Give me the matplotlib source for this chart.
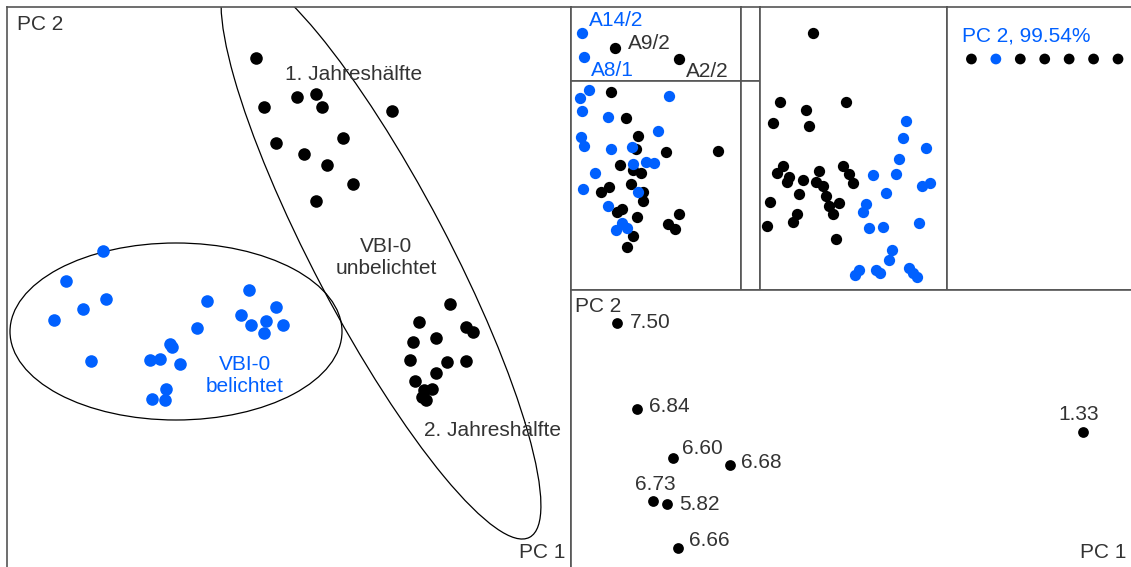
import matplotlib.pyplot as plt
from matplotlib.patches import Ellipse

plt.rcParams["font.family"] = ["Liberation Sans", "DejaVu Sans"]

BLUE = "#0060ff"
INK = "#333333"
FRAME = "#555555"
FS = 15

# --- left panel: PCA scores, VBI-0 samples
unexp_x = [2.49, 2.57, 2.90, 3.09, 3.15, 3.85, 2.69, 3.36, 2.97, 3.20, 3.46, 3.09,
           4.43, 4.12, 4.59, 4.66, 4.06, 4.29, 4.03, 4.40, 4.59, 4.29, 4.08, 4.25,
           4.17, 4.15, 4.19]
unexp_y = [5.09, 4.60, 4.70, 4.73, 4.60, 4.56, 4.24, 4.29, 4.13, 4.02, 3.83, 3.66,
           2.63, 2.45, 2.40, 2.35, 2.25, 2.29, 2.07, 2.05, 2.06, 1.94, 1.86, 1.78,
           1.77, 1.70, 1.67]
exp_x = [0.96, 0.59, 2.42, 0.99, 0.76, 0.47, 2.00, 2.69, 2.34, 2.44, 2.59, 2.76,
         2.57, 1.90, 1.63, 1.65, 0.84, 1.43, 1.53, 1.73, 1.59, 1.45, 1.58]
exp_y = [3.16, 2.86, 2.77, 2.68, 2.58, 2.47, 2.66, 2.60, 2.52, 2.42, 2.46, 2.42,
         2.34, 2.39, 2.23, 2.20, 2.06, 2.07, 2.08, 2.03, 1.78, 1.68, 1.67]

# confidence ellipses (centre x, centre y, width, height, angle)
ell_exp = (1.69, 2.355, 3.32, 1.77, 0.0)
ell_unexp = (3.74, 3.12, 6.38, 1.34, -62.25)

# --- top row: outliers with sample names
out_names = ["A14/2", "A9/2", "A8/1", "A2/2"]
out_x = [0.107, 0.44, 0.13, 1.08]
out_y = [0.483, 0.333, 0.243, 0.217]
out_blue = [True, False, True, False]
out_offsets = [(7, 12), (13, 4), (7, -14), (7, -12)]

# --- scores without outliers
b_blue_x = [0.18, 0.09, 0.11, 0.37, 0.98, 0.10, 0.13, 0.40, 0.61, 0.87, 0.62, 0.75,
            0.83, 0.24, 0.12, 0.67, 0.37, 0.51, 0.45, 0.56]
b_blue_y = [2.00, 1.92, 1.79, 1.73, 1.94, 1.53, 1.44, 1.41, 1.43, 1.59, 1.26, 1.28,
            1.27, 1.17, 1.01, 0.98, 0.84, 0.67, 0.60, 0.62]
b_black_x = [0.40, 0.55, 0.67, 0.65, 0.95, 1.47, 0.49, 0.62, 0.70, 0.38, 0.30, 0.60,
             0.72, 0.72, 1.08, 0.97, 1.04, 0.51, 0.46, 0.66, 0.62, 0.56]
b_black_y = [1.98, 1.72, 1.54, 1.41, 1.38, 1.39, 1.25, 1.20, 1.17, 1.03, 0.98, 1.06,
             0.98, 0.89, 0.76, 0.66, 0.61, 0.81, 0.78, 0.73, 0.54, 0.43]

c_black_x = [0.53, 0.20, 0.46, 0.86, 0.13, 0.49, 0.23, 0.17, 0.29, 0.27, 0.43, 0.59,
             0.56, 0.63, 0.83, 0.89, 0.93, 0.39, 0.66, 0.69, 0.79, 0.73, 0.10, 0.07,
             0.37, 0.33, 0.76]
c_black_y = [2.57, 1.88, 1.80, 1.88, 1.67, 1.64, 1.24, 1.17, 1.13, 1.08, 1.10, 1.19,
             1.08, 1.04, 1.24, 1.16, 1.07, 0.96, 0.94, 0.84, 0.87, 0.76, 0.88, 0.64,
             0.76, 0.68, 0.51]
c_blue_x = [1.46, 1.43, 1.66, 1.39, 1.13, 1.36, 1.62, 1.70, 1.26, 1.06, 1.03, 1.09,
            1.23, 1.59, 1.32, 1.29, 0.99, 0.95, 1.16, 1.20, 1.49, 1.57, 1.53]
c_blue_y = [1.69, 1.52, 1.42, 1.31, 1.15, 1.16, 1.04, 1.07, 0.97, 0.86, 0.78, 0.62,
            0.63, 0.67, 0.40, 0.30, 0.20, 0.15, 0.20, 0.17, 0.22, 0.13, 0.17]

# --- one-dimensional PC 2 scores
d_index = [1, 2, 3, 4, 5, 6, 7]
d_score = [2.31, 2.31, 2.31, 2.31, 2.31, 2.31, 2.31]
d_colors = ["black", BLUE, "black", "black", "black", "black", "black"]

# --- bottom right: group scores with labels
e_labels = ["7.50", "6.84", "1.33", "6.60", "6.68", "6.73", "5.82", "6.66"]
e_x = [0.46, 0.66, 5.12, 1.02, 1.59, 0.82, 0.96, 1.07]
e_y = [2.44, 1.58, 1.35, 1.09, 1.02, 0.66, 0.63, 0.19]
e_offsets = [(13, 0), (12, 2), (-4, 17), (9, 9), (11, 3), (2, 17), (12, 0), (11, 7)]
e_align = ["left", "left", "center", "left", "left", "center", "left", "left"]

W, H = 1131, 567
fig = plt.figure(figsize=(W / 100, H / 100), dpi=100)


def panel(x0, y0, x1, y1, hide=()):
    # rectangle given in pixels from the top-left corner
    ax = fig.add_axes([x0 / W, (H - y1) / H, (x1 - x0) / W, (y1 - y0) / H])
    ax.set_xlim(0, (x1 - x0) / 100)
    ax.set_ylim(0, (y1 - y0) / 100)
    ax.set_xticks([])
    ax.set_yticks([])
    for name, sp in ax.spines.items():
        sp.set_color(FRAME)
        sp.set_linewidth(1.2)
        if name in hide:
            sp.set_visible(False)
    return ax


# left panel
ax = panel(7, 7, 571, 567, hide=("bottom",))
for cx, cy, w, h, ang in (ell_exp, ell_unexp):
    ax.add_patch(Ellipse((cx, cy), w, h, angle=ang, fill=False, ec="black", lw=0.9))
ax.scatter(unexp_x, unexp_y, s=82, c="black", lw=0, zorder=3)
ax.scatter(exp_x, exp_y, s=82, c=BLUE, lw=0, zorder=3)
ax.text(0.10, 5.42, "PC 2", color=INK, fontsize=FS, ha="left", va="center")
ax.text(5.58, 0.14, "PC 1", color=INK, fontsize=FS, ha="right", va="center")
ax.text(2.78, 4.93, "1. Jahreshälfte", color=INK, fontsize=FS, ha="left", va="center")
ax.text(4.17, 1.36, "2. Jahreshälfte", color=INK, fontsize=FS, ha="left", va="center")
ax.text(3.79, 3.09, "VBI-0\nunbelichtet", color=INK, fontsize=FS, ha="center",
        va="center", linespacing=1.2)
ax.text(2.38, 1.92, "VBI-0\nbelichtet", color=BLUE, fontsize=FS, ha="center",
        va="center", linespacing=1.2)

# outliers
ax = panel(571, 7, 741, 81)
for x, y, name, isblue, off in zip(out_x, out_y, out_names, out_blue, out_offsets):
    col = BLUE if isblue else "black"
    ax.scatter([x], [y], s=66, c=col, lw=0, zorder=3)
    ax.annotate(name, (x, y), xytext=off, textcoords="offset pixels",
                color=BLUE if isblue else INK, fontsize=FS, ha="left", va="center")

# scores without outliers
ax = panel(571, 81, 741, 290)
ax.scatter(b_black_x, b_black_y, s=66, c="black", lw=0, zorder=3)
ax.scatter(b_blue_x, b_blue_y, s=66, c=BLUE, lw=0, zorder=3)

# narrow empty strip
panel(741, 7, 760, 81)
panel(741, 81, 760, 290)

ax = panel(760, 7, 947, 290)
ax.scatter(c_black_x, c_black_y, s=66, c="black", lw=0, zorder=3)
ax.scatter(c_blue_x, c_blue_y, s=66, c=BLUE, lw=0, zorder=3)

# PC 2 only
ax = fig.add_axes([947 / W, (H - 290) / H, 193 / W, 283 / H])
ax.set_xlim(0, 7.9)
ax.set_ylim(0, 2.83)
ax.set_xticks([])
ax.set_yticks([])
for sp in ax.spines.values():
    sp.set_color(FRAME)
    sp.set_linewidth(1.2)
ax.scatter(d_index, d_score, s=60, c=d_colors, lw=0, zorder=3)
ax.text(0.63, 2.54, "PC 2, 99.54%", color=BLUE, fontsize=FS, ha="left", va="center")

# bottom right
ax = panel(571, 290, 1140, 567, hide=("bottom",))
ax.scatter(e_x, e_y, s=60, c="black", lw=0, zorder=3)
for x, y, lab, off, al in zip(e_x, e_y, e_labels, e_offsets, e_align):
    ax.annotate(lab, (x, y), xytext=off, textcoords="offset pixels",
                color=INK, fontsize=FS, ha=al, va="center")
ax.text(0.04, 2.60, "PC 2", color=INK, fontsize=FS, ha="left", va="center")
ax.text(5.55, 0.14, "PC 1", color=INK, fontsize=FS, ha="right", va="center")

fig.savefig("out.png", dpi=100)
